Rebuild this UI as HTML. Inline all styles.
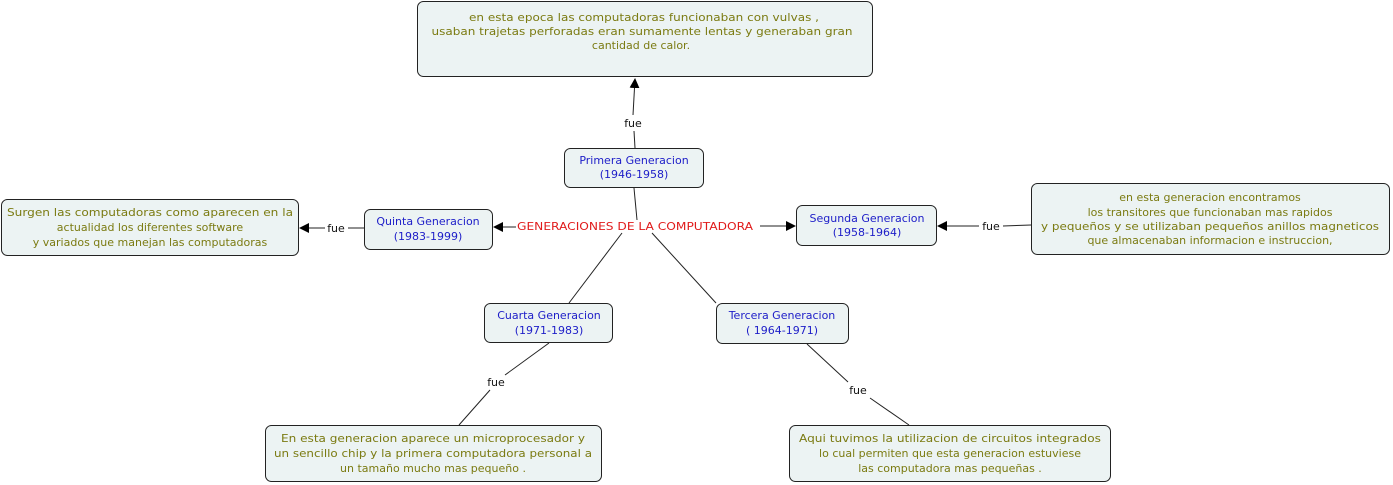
<!DOCTYPE html>
<html><head><meta charset="utf-8"><style>
html,body{margin:0;padding:0;background:#fff;width:1393px;height:485px;overflow:hidden}
text{font-family:"DejaVu Sans","Liberation Sans",sans-serif;font-size:11px;text-anchor:middle}
.o{fill:#7b7b12}.b{fill:#1d1dc8}.r{fill:#e01b1b}.k{fill:#111}
rect{fill:#ecf3f3;stroke:#222;stroke-width:1}
line{stroke:#222;stroke-width:1}
</style></head><body>
<svg width="1393" height="485" xmlns="http://www.w3.org/2000/svg">
<defs><marker id="a" markerWidth="10" markerHeight="10" refX="9" refY="5" orient="auto" markerUnits="userSpaceOnUse"><path d="M0,0 L10,5 L0,10z" fill="#000"/></marker></defs>
<!-- lines -->
<line x1="635" y1="148" x2="634" y2="131"/>
<line x1="633" y1="115" x2="635" y2="79" marker-end="url(#a)"/>
<line x1="634" y1="188" x2="637" y2="220"/>
<line x1="622" y1="233" x2="569" y2="303"/>
<line x1="652" y1="233" x2="716" y2="303"/>
<line x1="516" y1="227" x2="494" y2="227" marker-end="url(#a)"/>
<line x1="760" y1="226" x2="795" y2="226" marker-end="url(#a)"/>
<line x1="1031" y1="225" x2="1003" y2="226"/>
<line x1="979" y1="226" x2="938" y2="226" marker-end="url(#a)"/>
<line x1="364" y1="228" x2="348" y2="228"/>
<line x1="325" y1="228" x2="300" y2="228" marker-end="url(#a)"/>
<line x1="549" y1="343" x2="505" y2="375"/>
<line x1="490" y1="390" x2="459" y2="425"/>
<line x1="807" y1="344" x2="848" y2="382"/>
<line x1="870" y1="398" x2="909" y2="425"/>
<!-- boxes -->
<rect x="417.5" y="1.5" width="455" height="75" rx="6"/>
<rect x="564.5" y="148.5" width="139" height="39" rx="6"/>
<rect x="364.5" y="209.5" width="128" height="40" rx="6"/>
<rect x="796.5" y="205.5" width="140" height="40" rx="6"/>
<rect x="1031.5" y="183.5" width="358" height="71" rx="6"/>
<rect x="1.5" y="199.5" width="297" height="56" rx="6"/>
<rect x="484.5" y="303.5" width="128" height="39" rx="6"/>
<rect x="716.5" y="303.5" width="132" height="40" rx="6"/>
<rect x="265.5" y="425.5" width="336" height="56" rx="6"/>
<rect x="789.5" y="425.5" width="321" height="56" rx="6"/>
<!-- texts -->
<text class="o" x="644" y="21" textLength="350" lengthAdjust="spacingAndGlyphs">en esta epoca las computadoras funcionaban con vulvas ,</text>
<text class="o" x="642" y="35" textLength="421" lengthAdjust="spacingAndGlyphs">usaban trajetas perforadas eran sumamente lentas y generaban gran</text>
<text class="o" x="641" y="49">cantidad de calor.</text>
<text class="k" x="633" y="127">fue</text>
<text class="b" x="634" y="164">Primera Generacion</text>
<text class="b" x="634" y="178">(1946-1958)</text>
<text class="r" x="635" y="230" textLength="236" lengthAdjust="spacingAndGlyphs">GENERACIONES DE LA COMPUTADORA</text>
<text class="b" x="428" y="225">Quinta Generacion</text>
<text class="b" x="428" y="240">(1983-1999)</text>
<text class="b" x="867" y="222">Segunda Generacion</text>
<text class="b" x="867" y="236">(1958-1964)</text>
<text class="k" x="336" y="232">fue</text>
<text class="k" x="991" y="230">fue</text>
<text class="o" x="1210" y="201">en esta generacion encontramos</text>
<text class="o" x="1210" y="216">los transitores que funcionaban mas rapidos</text>
<text class="o" x="1210" y="230" textLength="338" lengthAdjust="spacingAndGlyphs">y pequeños y se utilizaban pequeños anillos magneticos</text>
<text class="o" x="1210" y="244">que almacenaban informacion e instruccion,</text>
<text class="o" x="150" y="216" textLength="286" lengthAdjust="spacingAndGlyphs">Surgen las computadoras como aparecen en la</text>
<text class="o" x="150" y="231">actualidad los diferentes software</text>
<text class="o" x="150" y="246">y variados que manejan las computadoras</text>
<text class="b" x="549" y="319">Cuarta Generacion</text>
<text class="b" x="549" y="334">(1971-1983)</text>
<text class="b" x="782" y="319">Tercera Generacion</text>
<text class="b" x="782" y="334">( 1964-1971)</text>
<text class="k" x="496" y="386">fue</text>
<text class="k" x="858" y="394">fue</text>
<text class="o" x="433" y="442" textLength="304" lengthAdjust="spacingAndGlyphs">En esta generacion aparece un microprocesador y</text>
<text class="o" x="433" y="457" textLength="318" lengthAdjust="spacingAndGlyphs">un sencillo chip y la primera computadora personal a</text>
<text class="o" x="433" y="472">un tamaño mucho mas pequeño .</text>
<text class="o" x="950" y="442" textLength="302" lengthAdjust="spacingAndGlyphs">Aqui tuvimos la utilizacion de circuitos integrados</text>
<text class="o" x="950" y="457">lo cual permiten que esta generacion estuviese</text>
<text class="o" x="950" y="472">las computadora mas pequeñas .</text>
</svg>
</body></html>
